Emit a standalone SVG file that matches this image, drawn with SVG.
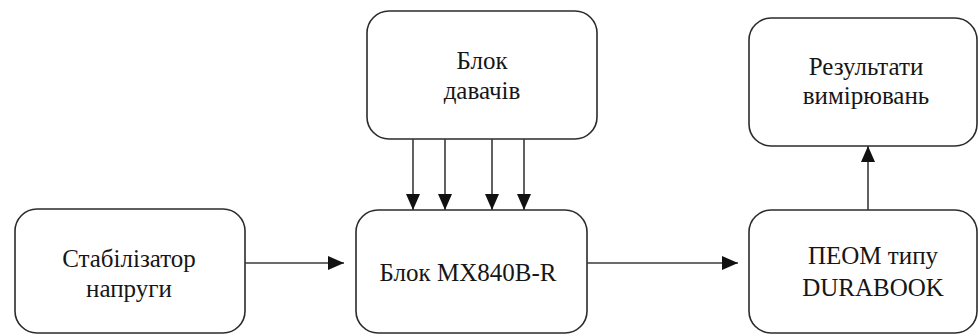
<svg xmlns="http://www.w3.org/2000/svg" width="978" height="336" viewBox="0 0 978 336">
<style>
.box{fill:#fff;stroke:#2b2b2b;stroke-width:1.6}
.t{font-size:25px;fill:#161616;text-anchor:middle}
.c{stroke:#3a3a3a;stroke-width:1.6;fill:none}
</style>
<defs>
<marker id="ah" markerUnits="userSpaceOnUse" markerWidth="16" markerHeight="14" refX="16" refY="7" orient="auto">
<path d="M0,0 L16,7 L0,14 z" fill="#111"/>
</marker>
</defs>
<rect width="978" height="336" fill="#fff"/>
<g font-family="Liberation Serif, DejaVu Serif, serif">
<g id="sensors">
<rect class="box" x="367" y="11" width="230" height="128" rx="22"/>
<text class="t" x="482" y="69">Блок</text>
<text class="t" x="482" y="99">давачів</text>
</g>
<g id="stabilizer">
<rect class="box" x="15" y="209" width="230" height="124" rx="22"/>
<text class="t" x="129" y="267">Стабілізатор</text>
<text class="t" x="129" y="297">напруги</text>
</g>
<g id="mx840">
<rect class="box" x="356" y="210" width="231" height="123" rx="22"/>
<text class="t" x="468" y="281">Блок MX840B-R</text>
</g>
<g id="results">
<rect class="box" x="749" y="18" width="228" height="128" rx="22"/>
<text class="t" x="866" y="75">Результати</text>
<text class="t" x="866" y="104">вимірювань</text>
</g>
<g id="peom">
<rect class="box" x="749" y="210" width="228" height="123" rx="22"/>
<text class="t" x="873" y="264">ПЕОМ типу</text>
<text class="t" x="873" y="296">DURABOOK</text>
</g>
</g>
<g id="connectors">
<line class="c" x1="413" y1="139" x2="413" y2="210" marker-end="url(#ah)"/>
<line class="c" x1="445" y1="139" x2="445" y2="210" marker-end="url(#ah)"/>
<line class="c" x1="492" y1="139" x2="492" y2="210" marker-end="url(#ah)"/>
<line class="c" x1="524" y1="139" x2="524" y2="210" marker-end="url(#ah)"/>
<line class="c" x1="245" y1="263" x2="344" y2="263" marker-end="url(#ah)"/>
<line class="c" x1="587" y1="263" x2="738" y2="263" marker-end="url(#ah)"/>
<line class="c" x1="868" y1="210" x2="868" y2="146" marker-end="url(#ah)"/>
</g>
</svg>
